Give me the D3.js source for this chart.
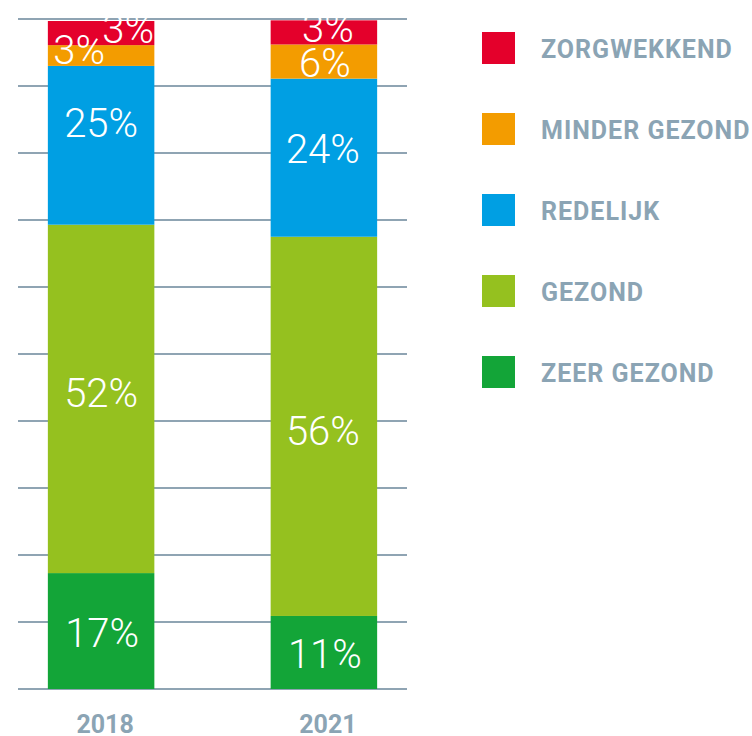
<!DOCTYPE html>
<html>
<head>
<meta charset="utf-8">
<script src="https://cdn.jsdelivr.net/npm/d3@7"></script>
<style>
  html, body { margin: 0; padding: 0; background: #fff; }
  svg { display: block; }
  .val { font-family: Roboto, sans-serif; font-weight: 300; font-size: 40px; fill: #fff; }
  .leg, .year { font-family: Roboto, sans-serif; font-weight: 700; font-size: 25px; fill: #8ba4b4; }
  .leg { letter-spacing: 1px; }
</style>
</head>
<body>
<svg id="chart" width="752" height="736"></svg>
<script>
'use strict';

/* Data */
let years = ['2018', '2021'];
let categories = ['ZEER GEZOND', 'GEZOND', 'REDELIJK', 'MINDER GEZOND', 'ZORGWEKKEND'];
// bar heights (percent)
let values2018 = [17.3, 52.0, 23.7, 3.1, 3.6];
let values2021 = [10.9, 56.6, 23.6, 5.1, 3.6];
// printed labels
let labels2018 = ['17%', '52%', '25%', '3%', '3%'];
let labels2021 = ['11%', '56%', '24%', '6%', '3%'];
let yTicks = [0, 10, 20, 30, 40, 50, 60, 70, 80, 90, 100];

/* Style */
var colors = ['#13a538', '#95c11f', '#009fe3', '#f39c00', '#e4002b'],
    // label nudges [dx, dy] relative to segment centre
    nudge = {
        '2018': [[1, 16], [0, 8], [0, -8], [-22, 8], [27, 10]],
        '2021': [[1, 16], [-1, 19], [-1, 5], [1, 15], [4, 10]]
    };

var svg = d3.select('#chart'),
    x = d3.scaleBand().domain(years).range([18, 407]).paddingInner(0.522).paddingOuter(0.134),
    y = d3.scaleLinear().domain([0, 100]).range([689, 19]);

var table = years.map(function(yr, i) {
    var row = { year: yr };
    var vals = i === 0 ? values2018 : values2021;
    var labs = i === 0 ? labels2018 : labels2021;
    categories.forEach(function(c, j) { row[c] = vals[j]; row['lbl_' + c] = labs[j]; });
    return row;
});
var series = d3.stack().keys(categories)(table);

svg.append('defs').append('clipPath').attr('id', 'clip')
    .append('rect').attr('x', 0).attr('y', 18).attr('width', 752).attr('height', 718);

var g = svg.append('g').attr('clip-path', 'url(#clip)');

/* Grid */
g.append('g').selectAll('line')
    .data(yTicks)
    .enter().append('line')
    .attr('x1', 18).attr('x2', 407)
    .attr('y1', function(d) { return y(d); })
    .attr('y2', function(d) { return y(d); })
    .attr('stroke', '#8fa4b3')
    .attr('stroke-width', 2);

/* Bars */
var layer = g.append('g').selectAll('g')
    .data(series)
    .enter().append('g')
    .attr('fill', function(d, i) { return colors[i]; });

layer.selectAll('rect')
    .data(function(d) { return d; })
    .enter().append('rect')
    .attr('x', function(d) { return x(d.data.year); })
    .attr('width', x.bandwidth())
    .attr('y', function(d) { return y(d[1]); })
    .attr('height', function(d) { return y(d[0]) - y(d[1]); });

/* Value labels */
series.forEach(function(s, i) {
    s.forEach(function(d) {
        var yr = d.data.year, n = nudge[yr][i];
        g.append('text')
            .attr('class', 'val')
            .attr('text-anchor', 'middle')
            .attr('x', x(yr) + x.bandwidth() / 2 + n[0])
            .attr('y', (y(d[0]) + y(d[1])) / 2 + n[1])
            .text(d.data['lbl_' + s.key]);
    });
});

/* Year labels */
svg.append('g').selectAll('text')
    .data(years)
    .enter().append('text')
    .attr('class', 'year')
    .attr('text-anchor', 'middle')
    .attr('x', function(d) { return x(d) + x.bandwidth() / 2 + 4; })
    .attr('y', 733)
    .text(function(d) { return d; });

/* Legend */
var legendOrder = categories.slice().reverse();
var ly = d3.scalePoint().domain(legendOrder).range([32, 356]);
var leg = svg.append('g').selectAll('g')
    .data(legendOrder)
    .enter().append('g')
    .attr('transform', function(d) { return 'translate(482,' + ly(d) + ')'; });
leg.append('rect')
    .attr('width', 33).attr('height', 32)
    .attr('fill', function(d) { return colors[categories.indexOf(d)]; });
leg.append('text')
    .attr('class', 'leg')
    .attr('x', 59).attr('y', 26)
    .text(function(d) { return d; });
</script>
</body>
</html>
